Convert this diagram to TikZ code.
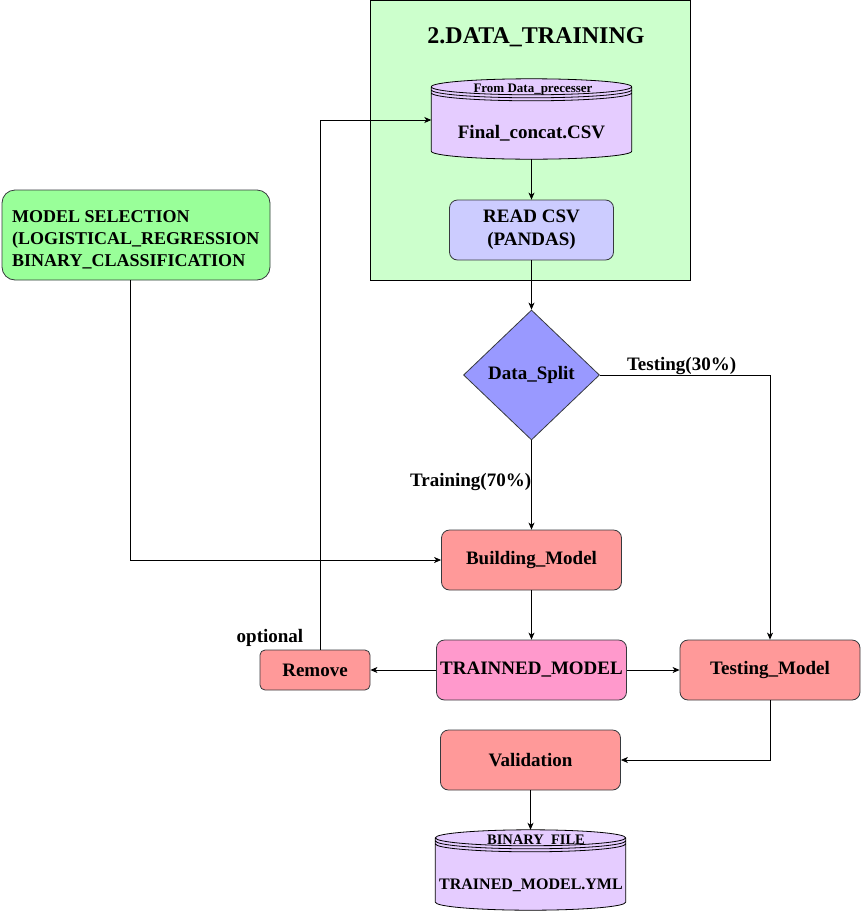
\documentclass[tikz,border=0pt]{standalone}
\usepackage{fontspec}
\setmainfont{Liberation Serif}
\usetikzlibrary{shapes.geometric,calc,arrows.meta}
\definecolor{panelgreen}{HTML}{CCFFCC}
\definecolor{dbpurple}{HTML}{E5CCFF}
\definecolor{csvblue}{HTML}{CCCCFF}
\definecolor{splitblue}{HTML}{9999FF}
\definecolor{selgreen}{HTML}{99FF99}
\definecolor{salmon}{HTML}{FF9999}
\definecolor{modelpink}{HTML}{FF99CC}
\definecolor{edgegray}{HTML}{36393D}

% datastore drum drawn around an (invisible) rectangular node
\newcommand\dbdraw[3]{%
  \path let \p1=(#1.north west), \p2=(#1.south east), \n1={(\x2-\x1)/2} in
    [draw=black, fill=#2, line width=0.8pt]
    (\x1,\y1-#3) -- (\x1,\y2+#3)
      arc[start angle=180,end angle=360,x radius=\n1*1pt,y radius=#3]
      -- (\x2,\y1-#3)
      arc[start angle=0,end angle=180,x radius=\n1*1pt,y radius=#3] -- cycle
    (\x1,\y1-#3) arc[start angle=180,end angle=360,x radius=\n1*1pt,y radius=#3]
    (\x1,\y1-#3-3pt) arc[start angle=180,end angle=360,x radius=\n1*1pt,y radius=#3]
    (\x1,\y1-#3-6pt) arc[start angle=180,end angle=360,x radius=\n1*1pt,y radius=#3];
}

\begin{document}
\begin{tikzpicture}[x=1pt,y=-1pt,
  font=\bfseries\fontsize{19}{22}\selectfont,
  box/.style={draw=edgegray, line width=0.8pt, rounded corners=8pt,
    align=center, inner sep=0pt},
  dbnode/.style={inner sep=0pt},
  arr/.style={-{Stealth[length=7pt,width=6pt,inset=2pt]}, line width=0.8pt, black},
  lbl/.style={inner sep=1pt}]
\useasboundingbox (0,0) rectangle (861,911);

% training panel
\node[draw=black, fill=panelgreen, line width=0.8pt, minimum width=320, minimum height=280,
  inner sep=0pt] (panel) at (530,140) {};
\node[font=\bfseries\fontsize{24}{28}\selectfont] (title) at (536,37) {2.DATA\_TRAINING};

% input datastore
\node[dbnode, minimum width=200, minimum height=80] (csvdb) at (531.5,119) {};
\dbdraw{csvdb}{dbpurple}{8pt}
\node[font=\bfseries\fontsize{13}{15}\selectfont] (csvhead) at (533,89.5) {From Data\_precesser};
\node (csvname) at (531.5,133) {Final\_concat.CSV};

\node[box, fill=csvblue, minimum width=164, minimum height=60,
  font=\bfseries\fontsize{19}{23}\selectfont] (readcsv) at (531.5,230) {READ CSV\\(PANDAS)};

\node[draw=edgegray, line width=0.8pt, fill=splitblue, diamond, minimum width=136,
  minimum height=130, inner sep=0pt] (split) at (531.5,375) {Data\_Split};

% model selection box and its left-aligned text
\node[box, fill=selgreen, rounded corners=13pt, minimum width=268, minimum height=90]
  (modelsel) at (136,235) {};
\node[anchor=west, align=left, inner sep=0pt, font=\bfseries\fontsize{18}{22}\selectfont]
  (modeltext) at (12,240)
  {MODEL SELECTION\\(LOGISTICAL\_REGRESSION\\BINARY\_CLASSIFICATION};

\node[box, fill=salmon, minimum width=180, minimum height=60] (build) at (531.5,560) {Building\_Model};
\node[box, fill=modelpink, minimum width=190, minimum height=60] (trained) at (531.5,670) {TRAINNED\_MODEL};
\node[box, fill=salmon, rounded corners=5pt, minimum width=110, minimum height=40] (remove) at (315,670) {Remove};
\node[box, fill=salmon, minimum width=180, minimum height=60] (testing) at (770,670) {Testing\_Model};
\node[box, fill=salmon, minimum width=180, minimum height=60] (valid) at (530.5,760) {Validation};

% output datastore
\node[dbnode, minimum width=190, minimum height=80] (ymldb) at (530.5,870) {};
\dbdraw{ymldb}{dbpurple}{8pt}
\node[font=\bfseries\fontsize{14.5}{16}\selectfont] (ymlhead) at (536,841) {BINARY\_FILE};
\node[font=\bfseries\fontsize{16}{18}\selectfont] (ymlname) at (531,885) {TRAINED\_MODEL.YML};

% connectors
\draw[arr] (csvdb.south) -- (readcsv.north);
\draw[arr] (readcsv.south) -- (split.north);
\draw[arr] (split.south) -- node[lbl, pos=0.47, left=-1pt] (trainlbl) {Training(70\%)} (build.north);
\draw[arr] (split.east) -| node[lbl, pos=0.24, above=-1pt] (testlbl) {Testing(30\%)} (testing.north);
\draw[arr] ($(modelsel.south)+(-6,0)$) |- (build.west);
\draw[arr] (build.south) -- (trained.north);
\draw[arr] (trained.west) -- (remove.east);
\draw[arr] (trained.east) -- (testing.west);
\draw[arr] ($(remove.north)+(5,0)$) |- ($(csvdb.west)+(0,1)$);
\draw[arr] (testing.south) |- (valid.east);
\draw[arr] (valid.south) -- (ymldb.north);
\node[lbl] (optlbl) at (270,638) {optional};
\end{tikzpicture}
\end{document}
